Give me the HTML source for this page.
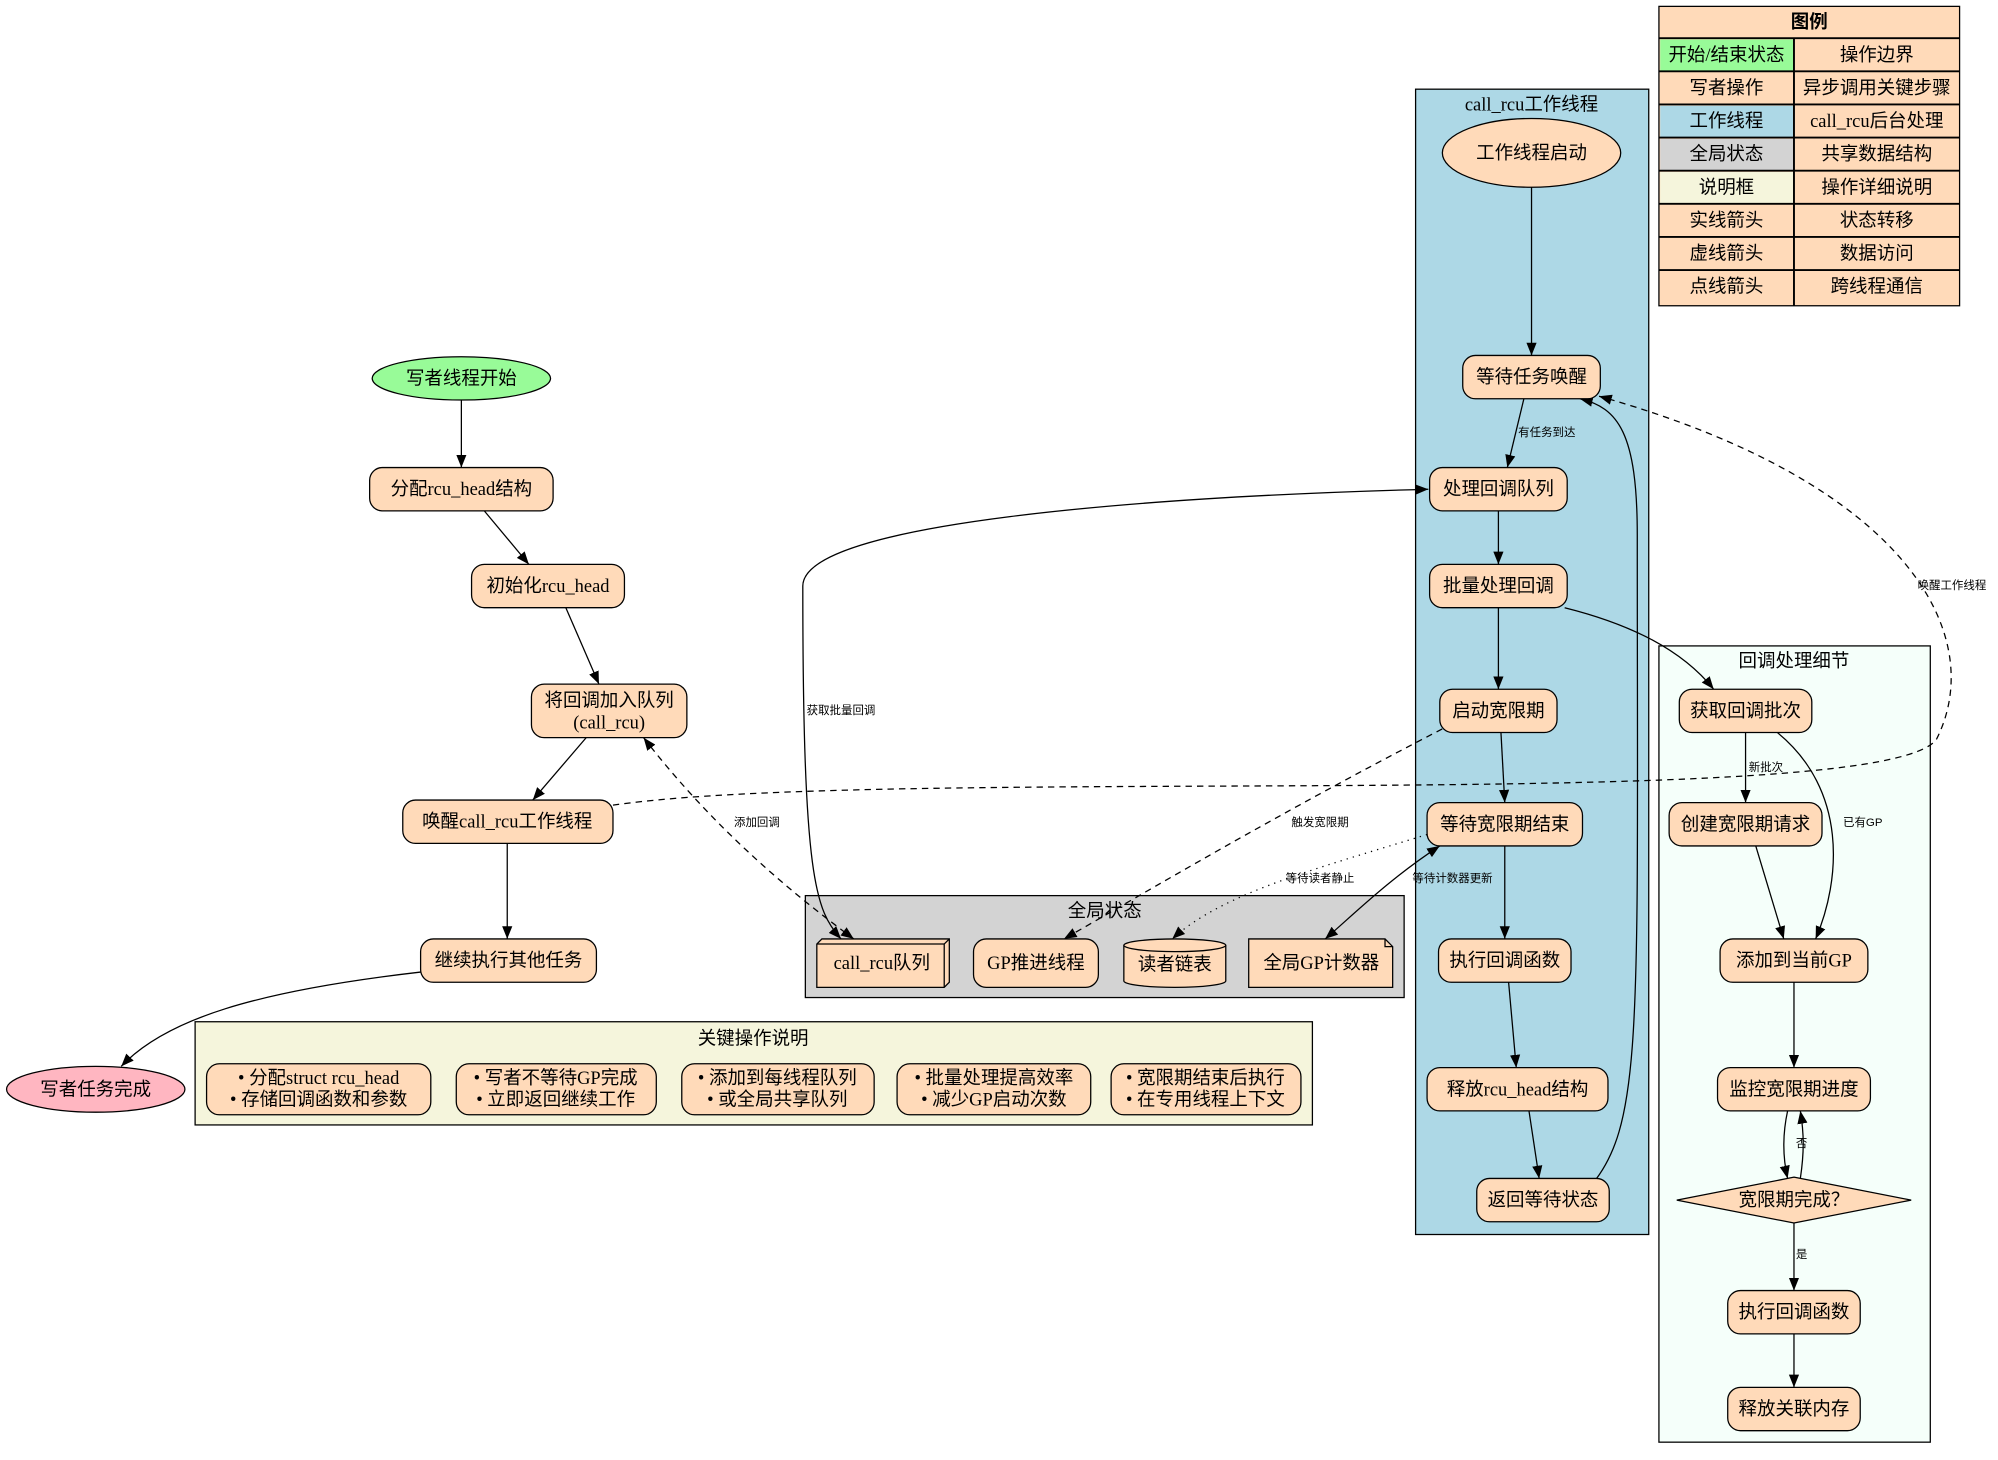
<!DOCTYPE html>
<html><head><meta charset="utf-8"><style>
html,body{margin:0;padding:0;background:#fff}
svg{display:block}
text{font-family:"Liberation Serif","Noto Sans CJK SC",serif;font-size:14.5px;text-anchor:middle;dominant-baseline:central;fill:#000}
.s text{font-size:9px;font-family:"Liberation Sans","Noto Sans CJK SC",sans-serif}
.n{fill:#ffdab9;stroke:#000;stroke-width:1}
.e{fill:none;stroke:#000;stroke-width:1}
.d{stroke-dasharray:5,4}
.o{stroke-dasharray:1,4}
</style></head><body>
<svg width="1998" height="1460" viewBox="0 0 1568 1146" xmlns="http://www.w3.org/2000/svg">
<defs>
<marker id="a" viewBox="0 0 10 10" refX="10" refY="5" markerWidth="10" markerHeight="10" markerUnits="userSpaceOnUse" orient="auto-start-reverse"><path d="M0,1 L10,5 L0,9 z" fill="#000"/></marker>
</defs>
<rect x="1111" y="70" width="183" height="899" fill="#add8e6" stroke="#000"/>
<text x="1202" y="82">call_rcu工作线程</text>
<rect x="1302" y="507" width="213" height="625" fill="#f5fffa" stroke="#000"/>
<text x="1408" y="519">回调处理细节</text>
<rect x="632" y="703" width="470" height="80" fill="#d3d3d3" stroke="#000"/>
<text x="867" y="715">全局状态</text>
<rect x="153" y="802" width="877" height="81" fill="#f5f5dc" stroke="#000"/>
<text x="591" y="815">关键操作说明</text>

<g>
<rect x="1302" y="5" width="236" height="235" fill="#ffdab9" stroke="#000"/>
<rect x="1303" y="31" width="105" height="25" fill="#98fb98"/>
<rect x="1303" y="83" width="105" height="25" fill="#add8e6"/>
<rect x="1303" y="109" width="105" height="25" fill="#d3d3d3"/>
<rect x="1303" y="135" width="105" height="25" fill="#f5f5dc"/>
<g stroke="#000" stroke-width="1.5">
<line x1="1302" y1="30" x2="1538" y2="30"/><line x1="1302" y1="56" x2="1538" y2="56"/>
<line x1="1302" y1="82" x2="1538" y2="82"/><line x1="1302" y1="108" x2="1538" y2="108"/>
<line x1="1302" y1="134" x2="1538" y2="134"/><line x1="1302" y1="160" x2="1538" y2="160"/>
<line x1="1302" y1="186" x2="1538" y2="186"/><line x1="1302" y1="212" x2="1538" y2="212"/>
<line x1="1408" y1="30" x2="1408" y2="240"/>
</g>
<text x="1420" y="17" style="font-weight:bold;font-family:'Liberation Sans','Noto Sans CJK SC',sans-serif">图例</text>
<g style="font-family:'Liberation Sans','Noto Sans CJK SC',sans-serif">
<text x="1355" y="43">开始/结束状态</text><text x="1473" y="43">操作边界</text>
<text x="1355" y="69">写者操作</text><text x="1473" y="69">异步调用关键步骤</text>
<text x="1355" y="95">工作线程</text><text x="1473" y="95">call_rcu后台处理</text>
<text x="1355" y="121">全局状态</text><text x="1473" y="121">共享数据结构</text>
<text x="1355" y="147">说明框</text><text x="1473" y="147">操作详细说明</text>
<text x="1355" y="173">实线箭头</text><text x="1473" y="173">状态转移</text>
<text x="1355" y="199">虚线箭头</text><text x="1473" y="199">数据访问</text>
<text x="1355" y="225">点线箭头</text><text x="1473" y="225">跨线程通信</text>
</g>
</g>

<g class="e" marker-end="url(#a)">
<path d="M362,314 L362,367"/>
<path d="M380,401 L415,443"/>
<path d="M444,477 L470,537"/>
<path d="M460,579 L418,628"/>
<path d="M398,662 L398,737"/>
<path d="M330,763 C200,778 130,800 95,837"/>
<path class="d" d="M505,579 C560,650 620,700 670,737" marker-start="url(#a)"/>
<path class="d" d="M481,632 C700,600 1480,640 1520,580 C1560,500 1500,380 1255,311"/>
<path d="M1202,147 L1202,279"/>
<path d="M1196,313 L1183,367"/>
<path d="M660,737 C640,715 630,690 630,460 C630,410 900,390 1121,384" marker-start="url(#a)"/>
<path d="M1176,401 L1176,443"/>
<path d="M1176,477 L1176,541"/>
<path d="M1228,477 C1280,490 1320,510 1345,541"/>
<path d="M1178,575 L1181,630"/>
<path class="d" d="M1140,568 C1000,640 900,700 835,737"/>
<path class="o" d="M1120,655 C1040,680 960,700 920,737"/>
<path d="M1130,664 C1090,690 1060,720 1040,737" marker-start="url(#a)"/>
<path d="M1181,664 L1181,737"/>
<path d="M1184,771 L1190,838"/>
<path d="M1200,872 L1208,925"/>
<path d="M1250,929 C1290,880 1285,800 1285,420 C1285,340 1270,320 1240,313"/>
<path d="M1370,575 L1370,630"/>
<path d="M1395,575 C1450,620 1445,690 1425,737"/>
<path d="M1378,664 L1400,737"/>
<path d="M1408,771 L1408,838"/>
<path d="M1403,872 C1398,895 1400,912 1403,925"/>
<path d="M1413,925 C1416,905 1416,890 1413,872"/>
<path d="M1408,960 L1408,1013"/>
<path d="M1408,1047 L1408,1089"/>
</g>
<g class="s">
<text x="594" y="646">添加回调</text>
<text x="1532" y="460">唤醒工作线程</text>
<text x="1214" y="340">有任务到达</text>
<text x="660" y="558">获取批量回调</text>
<text x="1036" y="646">触发宽限期</text>
<text x="1036" y="690">等待读者静止</text>
<text x="1140" y="690">等待计数器更新</text>
<text x="1386" y="603">新批次</text>
<text x="1462" y="646">已有GP</text>
<text x="1414" y="898">否</text>
<text x="1414" y="985">是</text>
</g>

<ellipse cx="362" cy="297" rx="70" ry="17" fill="#98fb98" stroke="#000"/><text x="362" y="297">写者线程开始</text>
<rect class="n" x="290" y="367" width="144" height="34" rx="10"/><text x="362" y="384">分配rcu_head结构</text>
<rect class="n" x="370" y="443" width="120" height="34" rx="10"/><text x="430" y="460">初始化rcu_head</text>
<rect class="n" x="417" y="537" width="122" height="42" rx="10"/><text x="478" y="550">将回调加入队列</text><text x="478" y="567">(call_rcu)</text>
<rect class="n" x="316" y="628" width="165" height="34" rx="10"/><text x="398" y="645">唤醒call_rcu工作线程</text>
<rect class="n" x="330" y="737" width="138" height="34" rx="10"/><text x="399" y="754">继续执行其他任务</text>
<ellipse cx="75" cy="855" rx="70" ry="18" fill="#ffb6c1" stroke="#000"/><text x="75" y="855">写者任务完成</text>

<rect class="n" x="162" y="835" width="176" height="40" rx="10"/><text x="250" y="846">• 分配struct rcu_head</text><text x="250" y="863">• 存储回调函数和参数</text>
<rect class="n" x="358" y="835" width="157" height="40" rx="10"/><text x="436" y="846">• 写者不等待GP完成</text><text x="436" y="863">• 立即返回继续工作</text>
<rect class="n" x="535" y="835" width="151" height="40" rx="10"/><text x="610" y="846">• 添加到每线程队列</text><text x="610" y="863">• 或全局共享队列</text>
<rect class="n" x="704" y="835" width="152" height="40" rx="10"/><text x="780" y="846">• 批量处理提高效率</text><text x="780" y="863">• 减少GP启动次数</text>
<rect class="n" x="872" y="835" width="149" height="40" rx="10"/><text x="946" y="846">• 宽限期结束后执行</text><text x="946" y="863">• 在专用线程上下文</text>

<path class="n" d="M641,741 L645,737 L745,737 L745,771 L741,775 L641,775 z"/>
<path class="e" d="M641,741 L741,741 L745,737 M741,741 L741,775"/>
<text x="692" y="756">call_rcu队列</text>
<rect class="n" x="764" y="737" width="98" height="38" rx="10"/><text x="813" y="756">GP推进线程</text>
<path class="n" d="M882,742 A40,5 0 0 1 962,742 L962,770 A40,5 0 0 1 882,770 z"/><path class="e" d="M882,742 A40,5 0 0 0 962,742"/>
<text x="922" y="757">读者链表</text>
<path class="n" d="M980,737 L1087,737 L1093,743 L1093,775 L980,775 z"/><path class="e" d="M1087,737 L1087,743 L1093,743"/>
<text x="1037" y="756">全局GP计数器</text>

<ellipse cx="1202" cy="120" rx="70" ry="27" fill="#ffdab9" stroke="#000"/><text x="1202" y="120">工作线程启动</text>
<rect class="n" x="1148" y="279" width="108" height="34" rx="10"/><text x="1202" y="296">等待任务唤醒</text>
<rect class="n" x="1122" y="367" width="108" height="34" rx="10"/><text x="1176" y="384">处理回调队列</text>
<rect class="n" x="1122" y="443" width="108" height="34" rx="10"/><text x="1176" y="460">批量处理回调</text>
<rect class="n" x="1130" y="541" width="92" height="34" rx="10"/><text x="1176" y="558">启动宽限期</text>
<rect class="n" x="1120" y="630" width="122" height="34" rx="10"/><text x="1181" y="647">等待宽限期结束</text>
<rect class="n" x="1129" y="737" width="104" height="34" rx="10"/><text x="1181" y="754">执行回调函数</text>
<rect class="n" x="1120" y="838" width="142" height="34" rx="10"/><text x="1191" y="855">释放rcu_head结构</text>
<rect class="n" x="1159" y="925" width="104" height="34" rx="10"/><text x="1211" y="942">返回等待状态</text>

<rect class="n" x="1318" y="541" width="104" height="34" rx="10"/><text x="1370" y="558">获取回调批次</text>
<rect class="n" x="1310" y="630" width="120" height="34" rx="10"/><text x="1370" y="647">创建宽限期请求</text>
<rect class="n" x="1350" y="737" width="116" height="34" rx="10"/><text x="1408" y="754">添加到当前GP</text>
<rect class="n" x="1348" y="838" width="120" height="34" rx="10"/><text x="1408" y="855">监控宽限期进度</text>
<path class="n" d="M1408,924 L1500,942 L1408,960 L1316,942 z"/><text x="1408" y="942">宽限期完成？</text>
<rect class="n" x="1356" y="1013" width="104" height="34" rx="10"/><text x="1408" y="1030">执行回调函数</text>
<rect class="n" x="1356" y="1089" width="104" height="34" rx="10"/><text x="1408" y="1106">释放关联内存</text>
</svg>
</body></html>
